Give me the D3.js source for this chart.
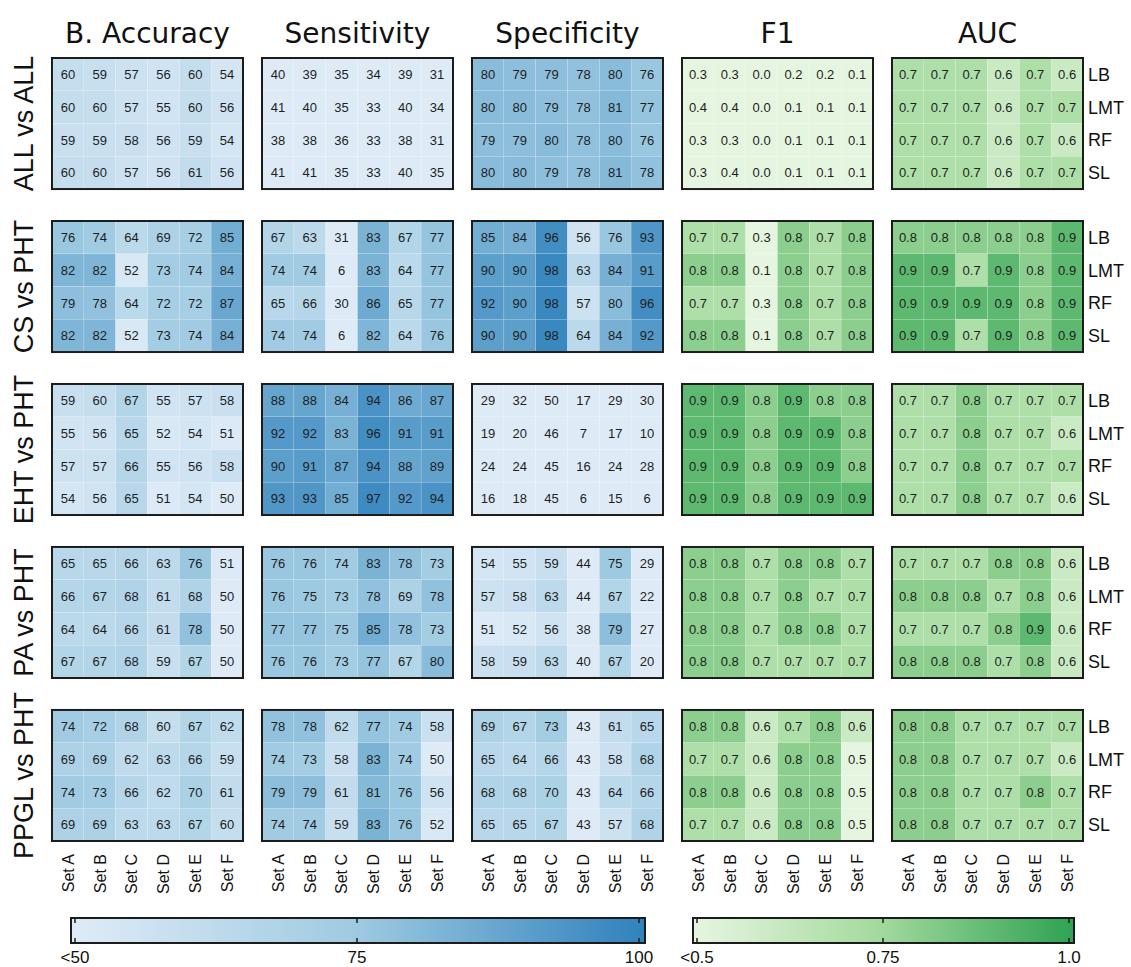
<!DOCTYPE html>
<html>
<head>
<meta charset="utf-8">
<script src="https://cdn.jsdelivr.net/npm/d3@7"></script>
<style>
  body { margin: 0; background: #fff; }
  svg { display: block; }
</style>
</head>
<body>
<svg id="chart" width="1131" height="967"></svg>
<script>
// ---- data ---------------------------------------------------------------
const comparisons = ["ALL vs ALL", "CS vs PHT", "EHT vs PHT", "PA vs PHT", "PPGL vs PHT"];
const models = ["LB", "LMT", "RF", "SL"];
const sets = ["Set A", "Set B", "Set C", "Set D", "Set E", "Set F"];
const metricTitles = ["B. Accuracy", "Sensitivity", "Specificity", "F1", "AUC"];

// each metric: [comparison][model][set]
const accuracy = [
  [[60,59,57,56,60,54],[60,60,57,55,60,56],[59,59,58,56,59,54],[60,60,57,56,61,56]],
  [[76,74,64,69,72,85],[82,82,52,73,74,84],[79,78,64,72,72,87],[82,82,52,73,74,84]],
  [[59,60,67,55,57,58],[55,56,65,52,54,51],[57,57,66,55,56,58],[54,56,65,51,54,50]],
  [[65,65,66,63,76,51],[66,67,68,61,68,50],[64,64,66,61,78,50],[67,67,68,59,67,50]],
  [[74,72,68,60,67,62],[69,69,62,63,66,59],[74,73,66,62,70,61],[69,69,63,63,67,60]]
];
const sensitivity = [
  [[40,39,35,34,39,31],[41,40,35,33,40,34],[38,38,36,33,38,31],[41,41,35,33,40,35]],
  [[67,63,31,83,67,77],[74,74,6,83,64,77],[65,66,30,86,65,77],[74,74,6,82,64,76]],
  [[88,88,84,94,86,87],[92,92,83,96,91,91],[90,91,87,94,88,89],[93,93,85,97,92,94]],
  [[76,76,74,83,78,73],[76,75,73,78,69,78],[77,77,75,85,78,73],[76,76,73,77,67,80]],
  [[78,78,62,77,74,58],[74,73,58,83,74,50],[79,79,61,81,76,56],[74,74,59,83,76,52]]
];
const specificity = [
  [[80,79,79,78,80,76],[80,80,79,78,81,77],[79,79,80,78,80,76],[80,80,79,78,81,78]],
  [[85,84,96,56,76,93],[90,90,98,63,84,91],[92,90,98,57,80,96],[90,90,98,64,84,92]],
  [[29,32,50,17,29,30],[19,20,46,7,17,10],[24,24,45,16,24,28],[16,18,45,6,15,6]],
  [[54,55,59,44,75,29],[57,58,63,44,67,22],[51,52,56,38,79,27],[58,59,63,40,67,20]],
  [[69,67,73,43,61,65],[65,64,66,43,58,68],[68,68,70,43,64,66],[65,65,67,43,57,68]]
];
const f1 = [
  [[0.3,0.3,0.0,0.2,0.2,0.1],[0.4,0.4,0.0,0.1,0.1,0.1],[0.3,0.3,0.0,0.1,0.1,0.1],[0.3,0.4,0.0,0.1,0.1,0.1]],
  [[0.7,0.7,0.3,0.8,0.7,0.8],[0.8,0.8,0.1,0.8,0.7,0.8],[0.7,0.7,0.3,0.8,0.7,0.8],[0.8,0.8,0.1,0.8,0.7,0.8]],
  [[0.9,0.9,0.8,0.9,0.8,0.8],[0.9,0.9,0.8,0.9,0.9,0.8],[0.9,0.9,0.8,0.9,0.9,0.8],[0.9,0.9,0.8,0.9,0.9,0.9]],
  [[0.8,0.8,0.7,0.8,0.8,0.7],[0.8,0.8,0.7,0.8,0.7,0.7],[0.8,0.8,0.7,0.8,0.8,0.7],[0.8,0.8,0.7,0.7,0.7,0.7]],
  [[0.8,0.8,0.6,0.7,0.8,0.6],[0.7,0.7,0.6,0.8,0.8,0.5],[0.8,0.8,0.6,0.8,0.8,0.5],[0.7,0.7,0.6,0.8,0.8,0.5]]
];
const auc = [
  [[0.7,0.7,0.7,0.6,0.7,0.6],[0.7,0.7,0.7,0.6,0.7,0.7],[0.7,0.7,0.7,0.6,0.7,0.6],[0.7,0.7,0.7,0.6,0.7,0.7]],
  [[0.8,0.8,0.8,0.8,0.8,0.9],[0.9,0.9,0.7,0.9,0.8,0.9],[0.9,0.9,0.9,0.9,0.8,0.9],[0.9,0.9,0.7,0.9,0.8,0.9]],
  [[0.7,0.7,0.8,0.7,0.7,0.7],[0.7,0.7,0.8,0.7,0.7,0.6],[0.7,0.7,0.8,0.7,0.7,0.7],[0.7,0.7,0.8,0.7,0.7,0.6]],
  [[0.7,0.7,0.7,0.8,0.8,0.6],[0.8,0.8,0.8,0.7,0.8,0.6],[0.7,0.7,0.7,0.8,0.9,0.6],[0.8,0.8,0.8,0.7,0.8,0.6]],
  [[0.8,0.8,0.7,0.7,0.7,0.7],[0.8,0.8,0.7,0.7,0.7,0.6],[0.8,0.8,0.7,0.7,0.8,0.7],[0.8,0.8,0.7,0.7,0.7,0.7]]
];

const blueStops = [50, 75, 100];
const blueTickLabels = ["<50", "75", "100"];
const greenStops = [0.5, 0.75, 1.0];
const greenTickLabels = ["<0.5", "0.75", "1.0"];

// ---- scales ---------------------------------------------------------------
const blue = d3.scaleLinear().domain(blueStops)
  .range(["#deebf7", "#9ecae1", "#3182bd"]).clamp(true);
const green = d3.scaleLinear().domain(greenStops)
  .range(["#e5f5e0", "#a1d99b", "#31a354"]).clamp(true);

const metrics = metricTitles.map((title, i) => ({
  title,
  values: [accuracy, sensitivity, specificity, f1, auc][i],
  color: i < 3 ? blue : green,
  fmt: i < 3 ? d3.format("d") : d3.format(".1f")
}));

const svg = d3.select("#chart");
const sans = "'Liberation Sans', Arial, Helvetica, sans-serif";

// panel grid
const panelX = d3.scaleBand().domain(d3.range(metrics.length))
  .range([52, 1083]).paddingInner(0.0905);
const panelY = d3.scaleBand().domain(d3.range(comparisons.length))
  .range([58, 841]).paddingInner(0.196);

// cells inside a panel
const cellX = d3.scaleBand().domain(sets).range([0, panelX.bandwidth()]);
const cellY = d3.scaleBand().domain(models).range([0, panelY.bandwidth()]);

// metric titles
svg.append("g").selectAll("text")
  .data(metrics)
  .join("text")
  .attr("x", (d, i) => panelX(i) + panelX.bandwidth() / 2)
  .attr("y", 43)
  .attr("text-anchor", "middle")
  .attr("font-family", "'DejaVu Sans', Verdana, sans-serif")
  .attr("font-size", 28)
  .attr("fill", "#111")
  .text(d => d.title);

// comparison labels on the left
svg.append("g").selectAll("text")
  .data(comparisons)
  .join("text")
  .attr("transform", (d, i) =>
    `translate(23,${panelY(i) + panelY.bandwidth() / 2}) rotate(-90)`)
  .attr("text-anchor", "middle")
  .attr("dy", "0.36em")
  .attr("font-family", sans)
  .attr("font-size", 27)
  .attr("fill", "#111")
  .text(d => d);

// heatmap panels
comparisons.forEach((comp, ci) => {
  metrics.forEach((m, mi) => {
    const g = svg.append("g")
      .attr("transform", `translate(${panelX(mi)},${panelY(ci)})`);

    const cells = m.values[ci].flatMap((row, ri) =>
      row.map((v, si) => ({ model: models[ri], set: sets[si], v })));

    g.selectAll("rect.cell")
      .data(cells)
      .join("rect")
      .attr("class", "cell")
      .attr("x", d => cellX(d.set))
      .attr("y", d => cellY(d.model))
      .attr("width", cellX.bandwidth())
      .attr("height", cellY.bandwidth())
      .attr("fill", d => m.color(d.v))
      .attr("stroke", "#fff")
      .attr("stroke-opacity", 0.2)
      .attr("stroke-width", 0.6);

    g.selectAll("text.val")
      .data(cells)
      .join("text")
      .attr("class", "val")
      .attr("x", d => cellX(d.set) + cellX.bandwidth() / 2)
      .attr("y", d => cellY(d.model) + cellY.bandwidth() / 2)
      .attr("dy", "0.36em")
      .attr("text-anchor", "middle")
      .attr("font-family", sans)
      .attr("font-size", 13)
      .attr("fill", "#1e1e1e")
      .text(d => m.fmt(d.v));

    g.append("rect")
      .attr("width", panelX.bandwidth())
      .attr("height", panelY.bandwidth())
      .attr("fill", "none")
      .attr("stroke", "#1c1c1c")
      .attr("stroke-width", 2);

    // model labels on the right of the last panel
    if (mi === metrics.length - 1) {
      g.selectAll("text.model")
        .data(models)
        .join("text")
        .attr("class", "model")
        .attr("x", panelX.bandwidth() + 5)
        .attr("y", d => cellY(d) + cellY.bandwidth() / 2)
        .attr("dy", "0.36em")
        .attr("font-family", sans)
        .attr("font-size", 18)
        .attr("fill", "#111")
        .text(d => d);
    }

    // set labels under the bottom row
    if (ci === comparisons.length - 1) {
      g.selectAll("text.set")
        .data(sets)
        .join("text")
        .attr("class", "set")
        .attr("transform", d =>
          `translate(${cellX(d) + cellX.bandwidth() / 2},${panelY.bandwidth() + 13}) rotate(-90)`)
        .attr("text-anchor", "end")
        .attr("dy", "0.36em")
        .attr("font-family", sans)
        .attr("font-size", 16)
        .attr("fill", "#111")
        .text(d => d);
    }
  });
});

// ---- colour bars ----------------------------------------------------------
const defs = svg.append("defs");

function colorBar(id, scale, stops, labels, barX0, barX1, tickX0, tickX1) {
  const barY = 918, barH = 25;
  const pos = d3.scaleLinear().domain([stops[0], stops[stops.length - 1]])
    .range([tickX0, tickX1]);

  const grad = defs.append("linearGradient")
    .attr("id", id)
    .attr("gradientUnits", "userSpaceOnUse")
    .attr("x1", barX0).attr("x2", barX1).attr("y1", 0).attr("y2", 0);
  const n = 20;
  d3.range(n + 1).forEach(k => {
    const x = barX0 + (barX1 - barX0) * k / n;
    grad.append("stop")
      .attr("offset", `${(100 * k / n).toFixed(2)}%`)
      .attr("stop-color", scale(pos.invert(x)));
  });

  const g = svg.append("g");
  g.append("rect")
    .attr("x", barX0).attr("y", barY)
    .attr("width", barX1 - barX0).attr("height", barH)
    .attr("fill", `url(#${id})`)
    .attr("stroke", "#1c1c1c")
    .attr("stroke-width", 2);

  // tick marks inside the bar, top and bottom
  g.selectAll("line.top")
    .data(stops)
    .join("line")
    .attr("x1", d => pos(d)).attr("x2", d => pos(d))
    .attr("y1", barY).attr("y2", barY + 5)
    .attr("stroke", "#1c1c1c").attr("stroke-width", 1.5);
  g.selectAll("line.bottom")
    .data(stops)
    .join("line")
    .attr("x1", d => pos(d)).attr("x2", d => pos(d))
    .attr("y1", barY + barH - 5).attr("y2", barY + barH)
    .attr("stroke", "#1c1c1c").attr("stroke-width", 1.5);

  g.selectAll("text")
    .data(stops)
    .join("text")
    .attr("x", d => pos(d))
    .attr("y", 963)
    .attr("text-anchor", "middle")
    .attr("font-family", sans)
    .attr("font-size", 17)
    .attr("fill", "#111")
    .text((d, i) => labels[i]);
}

colorBar("blueBar", blue, blueStops, blueTickLabels, 71, 645, 75, 639);
colorBar("greenBar", green, greenStops, greenTickLabels, 693, 1074, 697, 1069);
</script>
</body>
</html>
